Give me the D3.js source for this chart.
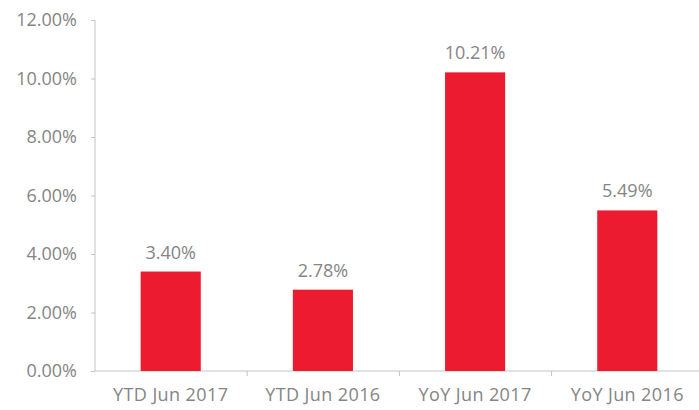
<!DOCTYPE html>
<html>
<head>
<meta charset="utf-8">
<script src="https://cdn.jsdelivr.net/npm/d3@7"></script>
<style>
  body { margin: 0; background: #fff; }
  text { font-family: "Open Sans", sans-serif; fill: #858585; }
</style>
</head>
<body>
<div id="chart"></div>
<script>
// chart data
const categories = ["YTD Jun 2017", "YTD Jun 2016", "YoY Jun 2017", "YoY Jun 2016"];
const values = [3.40, 2.78, 10.21, 5.49];
const yTicks = [0, 2, 4, 6, 8, 10, 12];

const width = 699, height = 410;
const margin = {top: 20, right: -4, bottom: 39, left: 95};

let svg = d3.select("#chart").append("svg")
    .attr("width", width)
    .attr("height", height);

let x = d3.scaleBand()
    .domain(categories)
    .range([margin.left, width - margin.right])
    .paddingInner(0.605)
    .paddingOuter(0.3);

let y = d3.scaleLinear()
    .domain([0, 12])
    .range([height - margin.bottom, margin.top]);

// y axis
let yAxis = svg.append("g")
    .attr("transform", `translate(${margin.left},0)`)
    .call(d3.axisLeft(y).tickValues(yTicks).tickSize(4).tickPadding(14)
        .tickFormat(d => d.toFixed(2) + "%"));
yAxis.selectAll("line, path").attr("stroke", "#c4c4c4");
yAxis.select(".domain").attr("d", `M0,${y(12)}V${y(0)}`);
yAxis.selectAll("text").style("font-size", "18px").attr("fill", "#858585");

// x axis: ticks between categories
let step = x.step();
let bandEdges = categories.map((c, i) => margin.left + i * step);
let xAxis = svg.append("g")
    .attr("transform", `translate(0,${y(0)})`);
xAxis.append("line")
    .attr("x1", margin.left).attr("x2", width)
    .attr("stroke", "#c4c4c4");
xAxis.selectAll(".tk")
    .data(bandEdges.slice(1))
    .enter().append("line")
    .attr("x1", d => d).attr("x2", d => d)
    .attr("y1", 0).attr("y2", 5)
    .attr("stroke", "#c4c4c4");
xAxis.selectAll(".lbl")
    .data(categories)
    .enter().append("text")
    .attr("x", d => x(d) + x.bandwidth() / 2)
    .attr("y", 30)
    .attr("text-anchor", "middle")
    .style("font-size", "18px")
    .style("letter-spacing", "0.4px")
    .text(d => d);

// bars
let data = categories.map((c, i) => ({cat: c, val: values[i]}));
svg.selectAll(".bar")
    .data(data)
    .enter().append("rect")
    .attr("x", d => x(d.cat))
    .attr("width", x.bandwidth())
    .attr("y", d => y(d.val))
    .attr("height", d => y(0) - y(d.val))
    .attr("fill", "#ed1b2f");

// value labels
svg.selectAll(".val")
    .data(data)
    .enter().append("text")
    .attr("x", d => x(d.cat) + x.bandwidth() / 2)
    .attr("y", d => y(d.val) - 13)
    .attr("text-anchor", "middle")
    .style("font-size", "18px")
    .text(d => d.val.toFixed(2) + "%");
</script>
</body>
</html>
